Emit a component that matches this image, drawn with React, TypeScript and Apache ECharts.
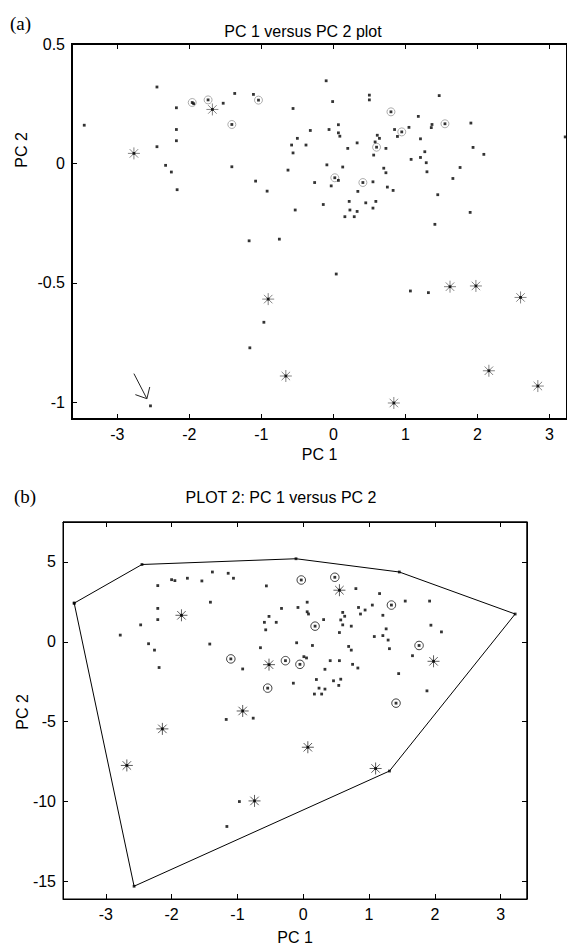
import React, { useEffect, useRef } from "react";
import * as echarts from "echarts";

// ---------- Plot (a) data ----------
const topDots: number[][] = [
  [-3.46, 0.16], [-2.45, 0.32], [-2.18, 0.233], [-2.18, 0.142], [-2.18, 0.095], [-2.45, 0.07],
  [-2.33, -0.008], [-2.25, -0.036], [-2.17, -0.11], [-1.94, 0.25], [-1.53, 0.252], [-1.37, 0.293],
  [-1.41, -0.014], [-1.11, 0.289], [-1.08, -0.074], [-0.92, -0.116], [-0.56, 0.23], [-0.5, 0.105],
  [-0.58, 0.077], [-0.56, 0.044], [-0.63, -0.028], [-0.53, -0.195], [-0.75, -0.317], [-1.17, -0.324],
  [-0.965, -0.665], [-1.16, -0.772], [-2.54, -1.015],
  [-0.1, 0.346], [0.5, 0.286], [0.5, 0.266], [-0.01, 0.259], [1.47, 0.284], [1.18, 0.197],
  [1.91, 0.169], [1.37, 0.163], [1.36, 0.15], [0.07, 0.162], [-0.06, 0.142], [-0.32, 0.138],
  [0.07, 0.128], [0.09, 0.114], [-0.38, 0.077], [0.85, 0.142], [1.05, 0.151], [0.89, 0.113],
  [0.61, 0.118], [0.64, 0.105], [0.58, 0.09], [0.33, 0.086], [0.2, 0.063], [0.73, 0.063],
  [0.56, 0.035], [1.21, 0.103], [1.27, 0.049], [1.94, 0.067], [2.09, 0.038], [3.22, 0.111],
  [1.08, 0.017], [1.21, 0.025], [1.29, 0.003], [1.3, -0.035], [1.76, -0.017], [1.66, -0.063],
  [-0.09, -0.006], [0.13, -0.015], [0.7, -0.02], [0.73, -0.039], [0.07, -0.071], [-0.26, -0.08],
  [-0.03, -0.094], [0.55, -0.077], [0.34, -0.117], [0.75, -0.099], [0.83, -0.113], [1.45, -0.131],
  [-0.14, -0.172], [0.22, -0.159], [0.45, -0.165], [0.59, -0.159], [0.23, -0.195], [0.33, -0.201],
  [0.55, -0.187], [0.16, -0.223], [0.29, -0.223], [1.9, -0.205], [1.41, -0.255], [0.04, -0.463],
  [1.07, -0.534], [1.32, -0.541],
];
const topStars: number[][] = [
  [-2.77, 0.042], [-1.68, 0.226], [-0.905, -0.568], [-0.66, -0.89], [0.84, -1.003],
  [1.62, -0.516], [1.98, -0.513], [2.6, -0.561], [2.16, -0.868], [2.84, -0.932],
];
const topCircles: number[][] = [
  [-1.96, 0.255], [-1.74, 0.266], [-1.41, 0.163], [-1.04, 0.265], [0.8, 0.216],
  [1.55, 0.166], [0.95, 0.132], [0.6, 0.068], [0.02, -0.06], [0.41, -0.08],
];
const arrowShaft: number[][] = [[-2.77, -0.88], [-2.59, -0.985]];
const arrowHead: number[][] = [[-2.75, -0.968], [-2.59, -0.985], [-2.55, -0.936]];

// ---------- Plot (b) data ----------
const botDots: number[][] = [
  [-2.78, 0.42], [-2.47, 1.06], [-2.21, 3.52], [-2.21, 2.09], [-2.21, 1.39], [-2.35, -0.12],
  [-2.26, -0.52], [-2.19, -1.61], [-2.0, 3.89], [-1.95, 3.83], [-1.76, 3.98], [-1.54, 3.81],
  [-1.38, 4.37], [-1.41, 2.48], [-1.42, -0.14], [-1.14, 4.29], [-1.06, 3.98], [-0.92, -1.7],
  [-1.17, -4.86], [-0.76, -4.78], [-0.56, 3.5], [-0.33, 2.09], [-0.08, 2.15], [-0.52, 1.59],
  [-0.59, 1.22], [-0.41, 1.22], [-0.57, 0.75], [-0.1, -0.06], [-0.65, -0.37], [-0.15, -2.59],
  [0.8, 3.33], [1.16, 3.02], [1.55, 2.55], [1.92, 2.55], [0.06, 2.48], [0.06, 1.88], [0.08, 1.74],
  [0.31, 1.39], [0.6, 1.84], [0.63, 1.6], [0.57, 1.37], [0.6, 1.06], [0.55, 0.58], [0.73, 0.98],
  [0.84, 2.15], [0.87, 1.74], [0.94, 1.99], [1.05, 2.3], [1.21, 1.66], [1.26, 0.81], [1.21, 0.39],
  [1.08, 0.33], [1.29, 0.11], [1.31, -0.43], [1.94, 1.04], [2.1, 0.62], [1.66, -0.87], [0.14, -0.23],
  [0.69, -0.29], [0.73, -0.52], [0.01, -0.93], [0.05, -1.01], [0.41, -1.18], [0.55, -1.18],
  [0.75, -1.41], [0.83, -1.64], [0.33, -1.72], [0.2, -2.36], [0.46, -2.44], [0.57, -2.34],
  [0.54, -2.73], [0.24, -2.9], [0.33, -2.96], [0.17, -3.27], [0.28, -3.27], [1.45, -1.99],
  [1.88, -3.07], [-0.97, -10.0], [-1.16, -11.56],
];
const botStars: number[][] = [
  [-1.85, 1.66], [-0.52, -1.43], [-0.92, -4.33], [-2.14, -5.45], [0.55, 3.23],
  [1.98, -1.22], [0.07, -6.6], [1.1, -7.93], [-2.68, -7.74], [-0.74, -9.96],
];
const botCircles: number[][] = [
  [-1.1, -1.07], [-0.27, -1.18], [-0.05, -1.41], [-0.54, -2.9], [-0.03, 3.87],
  [0.48, 4.04], [1.34, 2.3], [0.18, 0.98], [1.76, -0.23], [1.41, -3.84],
];
const hull: number[][] = [
  [-3.48, 2.42], [-2.45, 4.84], [-0.11, 5.2], [1.46, 4.37], [3.22, 1.74],
  [1.31, -8.09], [-2.57, -15.3], [-3.48, 2.42],
];

// ---------- axis ranges and ticks ----------
const topX = [-3.63, 3.245];
const topY = [-1.07, 0.5];
const botX = [-3.65, 3.4];
const botY = [-16.1, 7.5];
const xTicks = [-3, -2, -1, 0, 1, 2, 3];
const topYTicks = [-1, -0.5, 0, 0.5];
const botYTicks = [-15, -10, -5, 0, 5];

const FONT = "'Liberation Sans', Arial, Helvetica, sans-serif";
const SERIF = "19px 'Liberation Serif', 'Times New Roman', serif";
const STAR = "path://M6 0L6 12M0 6L12 6M1.76 1.76L10.24 10.24M1.76 10.24L10.24 1.76";

function valAxis(range: number[], ticks: number[], position: string, labels: boolean, lineWidth = 1) {
  return {
    type: "value",
    min: range[0],
    max: range[1],
    position,
    axisLine: { show: true, onZero: false, lineStyle: { color: "#000", width: lineWidth } },
    axisTick: { show: true, inside: true, length: 5, customValues: ticks, lineStyle: { color: "#000", width: 1 } },
    axisLabel: {
      show: labels,
      customValues: ticks,
      fontFamily: FONT,
      fontSize: 16,
      color: "#000",
      margin: 7,
      formatter: (v: number) => String(v),
    },
    splitLine: { show: false },
  };
}

const xName = (gap: number) => ({
  name: "PC 1",
  nameLocation: "middle",
  nameGap: gap,
  nameTextStyle: { fontFamily: FONT, fontSize: 16, color: "#000", verticalAlign: "top" },
});

const frameB = [[botX[0], botY[1]], [botX[1], botY[1]], [botX[1], botY[0]]];

const optionA: any = {
  animation: false,
  grid: { left: 72, top: 44, width: 495, height: 375, show: true, borderColor: "#000", borderWidth: 2, backgroundColor: "rgba(0,0,0,0)" },
  xAxis: [
    { ...valAxis(topX, xTicks, "bottom", true), ...xName(19) },
    valAxis(topX, xTicks, "top", false, 2),
  ],
  yAxis: [valAxis(topY, topYTicks, "left", true)],
  title: [
    { text: "PC 1 versus PC 2 plot", left: 298, top: 18, textAlign: "center",
      textStyle: { fontFamily: FONT, fontSize: 16, fontWeight: "normal", color: "#000" } },
  ],
  series: [
    { type: "line", data: arrowShaft, symbol: "none", lineStyle: { color: "#222", width: 1 } },
    { type: "line", data: arrowHead, symbol: "none", lineStyle: { color: "#222", width: 1 } },
    { type: "scatter", data: topCircles, symbol: "circle", symbolSize: 8,
      itemStyle: { color: "rgba(0,0,0,0)", borderColor: "#999", borderWidth: 1 } },
    { type: "scatter", data: topStars, symbol: STAR, symbolSize: 12,
      itemStyle: { color: "rgba(0,0,0,0)", borderColor: "#666", borderWidth: 1 } },
    { type: "scatter", data: [...topDots, ...topStars, ...topCircles],
      symbol: "rect", symbolSize: 2.8, itemStyle: { color: "#000" } },
  ],
  graphic: [
    { type: "text", x: 10, y: 14, style: { text: "(a)", font: SERIF, fill: "#000" } },
    { type: "text", x: 21, y: 150, rotation: Math.PI / 2, style: { text: "PC 2", font: "16px " + FONT, fill: "#000", align: "center", verticalAlign: "middle" } },
  ],
};

const optionB: any = {
  animation: false,
  backgroundColor: "#fff",
  grid: { left: 63, top: 52, width: 464, height: 380, show: true, borderColor: "#000", borderWidth: 1, backgroundColor: "rgba(0,0,0,0)" },
  xAxis: [
    { ...valAxis(botX, xTicks, "bottom", true), ...xName(30) },
    valAxis(botX, xTicks, "top", false),
  ],
  yAxis: [
    valAxis(botY, botYTicks, "left", true),
    valAxis(botY, botYTicks, "right", false),
  ],
  graphic: [
    { type: "text", left: 14, top: 17, style: { text: "(b)", font: SERIF, fill: "#000" } },
    { type: "text", x: 281, y: 27, style: { text: "PLOT 2: PC 1 versus PC 2", font: "16px " + FONT, fill: "#000", align: "center", verticalAlign: "middle" } },
    { type: "text", x: 22, y: 242, rotation: Math.PI / 2, style: { text: "PC 2", font: "16px " + FONT, fill: "#000", align: "center", verticalAlign: "middle" } },
  ],
  series: [
    { type: "line", data: frameB, symbol: "none", clip: false, silent: true, lineStyle: { color: "#000", width: 1 } },
    { type: "line", data: hull, symbol: "none", lineStyle: { color: "#000", width: 1 } },
    { type: "scatter", data: botCircles, symbol: "circle", symbolSize: 8.5,
      itemStyle: { color: "rgba(0,0,0,0)", borderColor: "#111", borderWidth: 1 } },
    { type: "scatter", data: botStars, symbol: STAR, symbolSize: 12,
      itemStyle: { color: "rgba(0,0,0,0)", borderColor: "#333", borderWidth: 1 } },
    { type: "scatter", data: [...botDots, ...hull, ...botStars, ...botCircles],
      symbol: "rect", symbolSize: 2.8, itemStyle: { color: "#000" } },
  ],
};

function Chart({ option, top, height }: { option: any; top: number; height: number }) {
  const ref = useRef<HTMLDivElement>(null);
  useEffect(() => {
    if (!ref.current) return;
    const chart = echarts.init(ref.current, null, { renderer: "svg" });
    chart.setOption(option);
    return () => chart.dispose();
  }, [option]);
  return (
    <div
      ref={ref}
      style={{ position: "absolute", left: 0, top, width: 567, height, background: "#fff" }}
    />
  );
}

export default function App() {
  return (
    <div style={{ position: "fixed", left: 0, top: 0, width: 567, height: 950, background: "#fff", overflow: "hidden" }}>
      <Chart option={optionA} top={0} height={470} />
      <Chart option={optionB} top={470} height={480} />
    </div>
  );
}
